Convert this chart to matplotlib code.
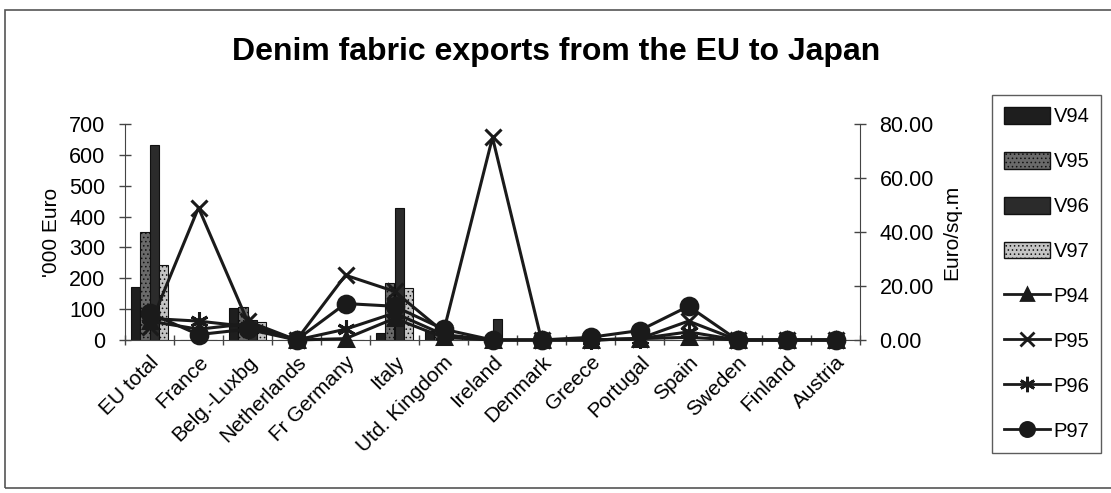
import matplotlib
matplotlib.use("Agg")
import matplotlib.pyplot as plt
import numpy as np
from matplotlib.patches import Rectangle, Patch
from matplotlib.lines import Line2D

plt.rcParams['font.family'] = ['Liberation Sans', 'DejaVu Sans']
plt.rcParams['hatch.linewidth'] = 0.6

categories = ["EU total", "France", "Belg.-Luxbg", "Netherlands", "Fr Germany", "Italy",
              "Utd. Kingdom", "Ireland", "Denmark", "Greece", "Portugal", "Spain",
              "Sweden", "Finland", "Austria"]

V94 = [171, 0, 103, 0, 0, 22, 30, 5, 0, 0, 0, 0, 0, 0, 0]
V95 = [349, 0, 108, 0, 0, 185, 20, 0, 0, 0, 0, 0, 0, 0, 0]
V96 = [632, 0, 65, 0, 0, 427, 25, 68, 0, 0, 0, 0, 0, 0, 0]
V97 = [243, 0, 57, 0, 0, 170, 15, 0, 0, 0, 0, 0, 0, 0, 0]

P94 = [7, 4, 6, 0, 0.5, 8, 1, 0, 0, 0, 0.5, 1, 0, 0, 0]
P95 = [5, 49, 7, 0, 24, 18, 3, 75, 0, 0, 0.5, 7, 0, 0, 0]
P96 = [8, 7, 5, 0, 4, 10, 2, 0, 0, 0, 0.5, 3, 0, 0, 0]
P97 = [10, 2, 4, 0, 13.5, 12.5, 4, 0, 0, 1, 3.5, 12.5, 0, 0, 0]

bar_series = [("V94", V94, "#1e1e1e", None), ("V95", V95, "#6a6a6a", "...."),
              ("V96", V96, "#2b2b2b", None), ("V97", V97, "#c4c4c4", "....")]
line_series = [("P94", P94, "^", 10), ("P95", P95, "x", 12),
               ("P96", P96, (6, 2, 0), 13), ("P97", P97, "o", 12)]

W, H = 1111, 493
fig = plt.figure(figsize=(W / 100, H / 100), dpi=100)
fig.patch.set_facecolor("white")

# outer frame
fig.patches.append(Rectangle((5 / W, 1 - 488 / H), (W + 10) / W, (488 - 10) / H,
                             transform=fig.transFigure, fill=False, edgecolor="#555555",
                             linewidth=1.2))

ax = fig.add_axes([125 / W, 1 - 340 / H, (860 - 125) / W, (340 - 124) / H])
ax2 = ax.twinx()

x = np.arange(len(categories))
bw = 0.185
for i, (name, vals, col, hatch) in enumerate(bar_series):
    ax.bar(x + (i - 1.5) * bw, vals, width=bw, color=col, edgecolor="#111111",
           linewidth=0.8, hatch=hatch, label=name, zorder=2)

for name, vals, mk, ms in line_series:
    ax2.plot(x, vals, color="#1a1a1a", linewidth=2.2, marker=mk, markersize=ms,
             markeredgewidth=2.2, markerfacecolor="#1a1a1a", markeredgecolor="#1a1a1a",
             label=name, clip_on=False, zorder=3)

ax.set_xlim(-0.5, len(categories) - 0.5)
ax.set_ylim(0, 700)
ax.set_yticks(np.arange(0, 701, 100))
ax2.set_ylim(0, 80)
ax2.set_yticks(np.arange(0, 81, 20))
ax2.set_yticklabels([f"{v:.2f}" for v in np.arange(0, 81, 20)])

ax.set_xticks(np.arange(-0.5, len(categories), 1), minor=False)
ax.set_xticklabels([])
ax.set_xticks(x, minor=True)
ax.set_xticklabels(categories, minor=True, rotation=45, ha="right", va="top",
                   rotation_mode="anchor", fontsize=15)
ax.tick_params(axis="x", which="minor", length=0, pad=9)
ax.tick_params(axis="x", which="major", direction="inout", length=7, width=1, color="#444444")

for a in (ax, ax2):
    a.spines["top"].set_visible(False)
ax.spines["right"].set_visible(False)
ax2.spines["left"].set_visible(False)
ax2.spines["bottom"].set_visible(False)
for sp in ("left", "bottom"):
    ax.spines[sp].set_color("#444444")
ax2.spines["right"].set_color("#444444")

ax.tick_params(axis="y", direction="inout", length=8, width=1, labelsize=15.5, color="#444444", pad=10)
ax2.tick_params(axis="y", direction="inout", length=8, width=1, labelsize=15.5, color="#444444", pad=10)

ax.set_ylabel("'000 Euro", fontsize=15, labelpad=6)
ax2.set_ylabel("Euro/sq.m", fontsize=15, labelpad=6)

fig.text(556 / W, 1 - 52 / H, "Denim fabric exports from the EU to Japan",
         ha="center", va="center", fontsize=23, fontweight="bold")

handles = []
for name, vals, col, hatch in bar_series:
    handles.append(Patch(facecolor=col, edgecolor="#111111", hatch=hatch, label=name))
for name, vals, mk, ms in line_series:
    handles.append(Line2D([], [], color="#1a1a1a", linewidth=2.0, marker=mk, markersize=ms * 0.85,
                          markeredgewidth=2.0, markerfacecolor="#1a1a1a",
                          markeredgecolor="#1a1a1a", label=name))
leg = fig.legend(handles=handles, loc="upper left", bbox_to_anchor=(992 / W, 1 - 95 / H),
                 frameon=True, fancybox=False, edgecolor="#333333", fontsize=14.5,
                 handlelength=2.3, handleheight=0.9, handletextpad=0.15, labelspacing=1.27,
                 borderpad=0.6, borderaxespad=0)
leg.get_frame().set_linewidth(1.0)

fig.savefig("out.png", dpi=100)
